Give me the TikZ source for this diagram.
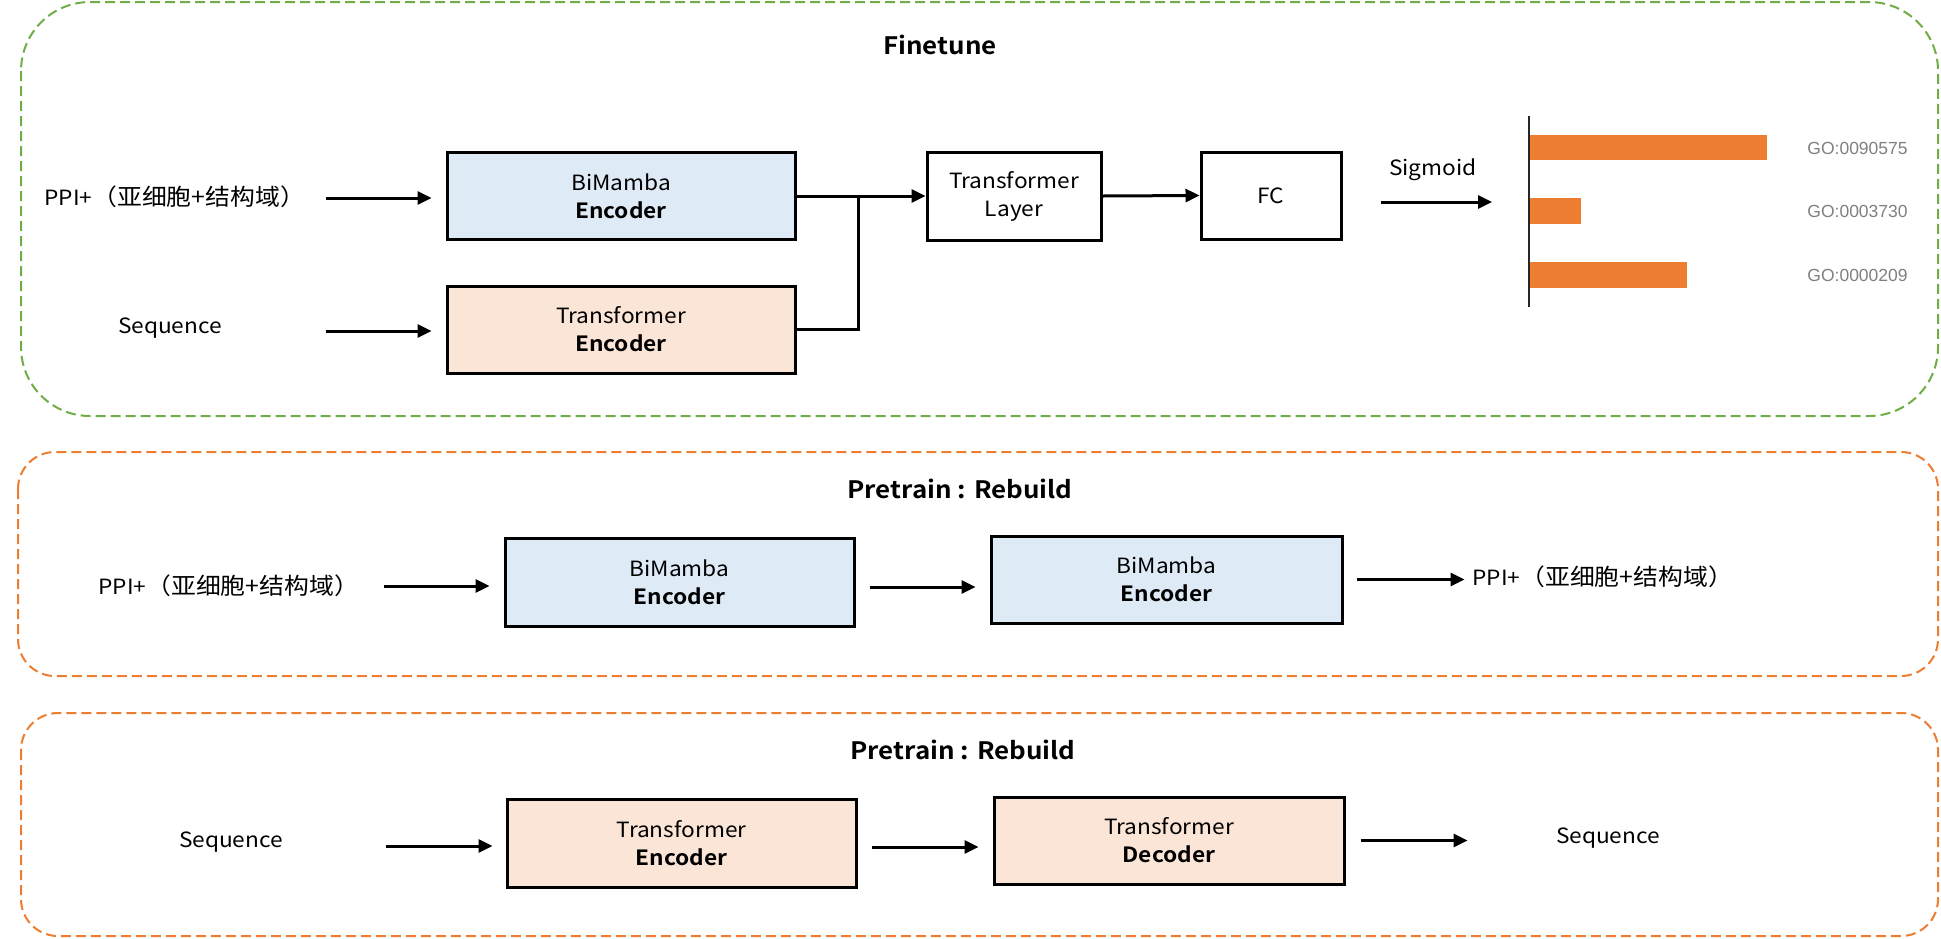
\documentclass[tikz,border=0pt]{standalone}
\usepackage{fontspec}
\setmainfont{Noto Sans CJK SC}[BoldFont={Noto Sans CJK SC Bold}, FakeStretch=1.08]
\newfontfamily\cjk{Noto Sans CJK SC}[Kerning=Off, FakeStretch=1.08]
\newfontfamily\gofont{Liberation Sans}
\newcommand{\ppitext}{PPI+{\fontsize{11.5}{14}\selectfont（亚细胞+结构域）}}
\usetikzlibrary{arrows.meta}
\definecolor{cgreen}{HTML}{70AD47}
\definecolor{corange}{HTML}{ED7D31}
\definecolor{cblue}{HTML}{DEEBF7}
\definecolor{cpeach}{HTML}{FBE5D6}
\definecolor{cbar}{HTML}{ED7D31}
\definecolor{cgrey}{HTML}{7F7F7F}
\begin{document}
\begin{tikzpicture}[x=0.5pt,y=-0.5pt,
  box/.style={draw=black, line width=1.5pt, minimum width=174pt, minimum height=43.5pt,
    align=center, inner sep=0pt, font=\fontsize{10.5}{14}\selectfont},
  bluebox/.style={box, fill=cblue},
  peachbox/.style={box, fill=cpeach},
  plainbox/.style={box, fill=white},
  lbl/.style={inner sep=0pt, font=\fontsize{10.5}{14}\selectfont},
  cjklbl/.style={inner sep=0pt, anchor=west, font=\cjk\fontsize{10.5}{14}\selectfont},
  ttl/.style={inner sep=0pt, font=\fontsize{12}{14}\selectfont\bfseries},
  golbl/.style={inner sep=0pt, anchor=west, text=cgrey, font=\gofont\fontsize{8.75}{10}\selectfont},
  arr/.style={line width=1.5pt, -{Triangle[length=7pt,width=6.5pt]}},
  panel/.style={line width=1pt, dash pattern=on 5pt off 2.5pt}
]
\useasboundingbox (0,0) rectangle (1941,938);

% ---------- panels ----------
\draw[panel, draw=cgreen, rounded corners=34.5pt] (21,2) rectangle (1938,416);
\draw[panel, draw=corange, rounded corners=18.5pt] (18,452) rectangle (1938,676);
\draw[panel, draw=corange, rounded corners=18.5pt] (21,713) rectangle (1938,936);

% ---------- Finetune ----------
\node[ttl] (t1) at (940,45) {Finetune};
\node[cjklbl] (ppi1) at (44,197) {\ppitext};
\node[lbl] (seq1) at (170,328) {Sequence};
\node[bluebox] (bm1) at (621,196) {BiMamba\\\textbf{Encoder}};
\node[peachbox] (te1) at (621,329.5) {Transformer\\\textbf{Encoder}};
\node[plainbox, minimum width=87pt, minimum height=44pt] (tl) at (1014,196) {Transformer\\Layer};
\node[plainbox, minimum width=70pt, minimum height=43.5pt] (fc) at (1271,195.5) {FC};
\node[lbl] (sig) at (1433,170) {Sigmoid};

\draw[arr] ([xshift=-60pt,yshift=-1pt]bm1.west) -- ([xshift=-7pt,yshift=-1pt]bm1.west);
\draw[arr] ([xshift=-60pt,yshift=-0.75pt]te1.west) -- ([xshift=-7pt,yshift=-0.75pt]te1.west);
\coordinate (j) at (858,197);
\draw[line width=1.5pt] (te1.east) -| (j);
\draw[arr] (bm1.east) -- (tl.west);
\draw[arr] (tl.east) -- (fc.west);
\coordinate (sigA) at (1381,202);
\coordinate (sigB) at (1492,202);
\draw[arr] (sigA) -- (sigB);

% bar chart
\fill[cbar] (1530,135) rectangle (1767,160);
\fill[cbar] (1530,198) rectangle (1581,224);
\fill[cbar] (1530,262) rectangle (1687,288);
\draw[line width=1pt, black!85] (1529,116) -- (1529,307);
\node[golbl] (go1) at (1807,148) {GO:0090575};
\node[golbl] (go2) at (1807,211) {GO:0003730};
\node[golbl] (go3) at (1807,275) {GO:0000209};

% ---------- Pretrain 1 ----------
\node[ttl] (t2) at (960,489) {Pretrain : Rebuild};
\node[cjklbl] (ppi2) at (98,586) {\ppitext};
\node[bluebox, minimum width=174.5pt, minimum height=44pt] (bm2) at (679.5,582) {BiMamba\\\textbf{Encoder}};
\node[bluebox, minimum width=175.5pt] (bm3) at (1166.5,579.5) {BiMamba\\\textbf{Encoder}};
\node[cjklbl] (ppi3) at (1472,577) {\ppitext};
\draw[arr] ([xshift=-60pt,yshift=-2pt]bm2.west) -- ([xshift=-7pt,yshift=-2pt]bm2.west);
\draw[arr] ([xshift=-60pt,yshift=-3.75pt]bm3.west) -- ([xshift=-7pt,yshift=-3.75pt]bm3.west);
\draw[arr] ([xshift=6.5pt]bm3.east) -- ([xshift=60.5pt]bm3.east);

% ---------- Pretrain 2 ----------
\node[ttl] (t3) at (963,750) {Pretrain : Rebuild};
\node[lbl] (seq2) at (231,842) {Sequence};
\node[peachbox, minimum width=174.5pt, minimum height=44pt] (te2) at (681.5,843) {Transformer\\\textbf{Encoder}};
\node[peachbox, minimum width=175pt] (td) at (1169,840.5) {Transformer\\\textbf{Decoder}};
\node[lbl] (seq3) at (1608,838) {Sequence};
\draw[arr] ([xshift=-60pt,yshift=-1.5pt]te2.west) -- ([xshift=-6.5pt,yshift=-1.5pt]te2.west);
\draw[arr] ([xshift=-60.5pt,yshift=-3.25pt]td.west) -- ([xshift=-7pt,yshift=-3.25pt]td.west);
\draw[arr] ([xshift=7.5pt]td.east) -- ([xshift=61pt]td.east);
\end{tikzpicture}
\end{document}
